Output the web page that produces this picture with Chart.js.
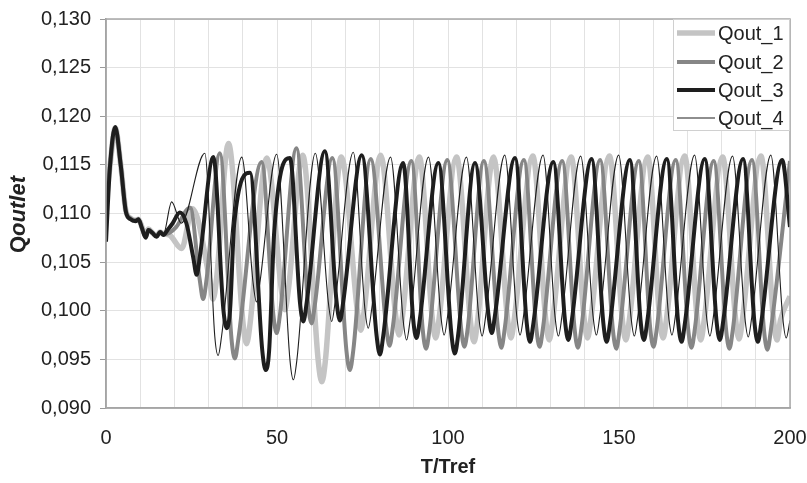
<!DOCTYPE html>
<html>
<head>
<meta charset="utf-8">
<script src="https://cdn.jsdelivr.net/npm/chart.js@4"></script>
<style>
  html, body { margin: 0; padding: 0; background: #fff; }
  #wrap { width: 807px; height: 483px; }
</style>
</head>
<body>
<div id="wrap"><canvas id="chart" width="807" height="483"></canvas></div>
<script>
// points: [T/Tref, Qoutlet]
// (peaks, troughs, and the flanks just beside each sharp trough)
const qout1 = [[0,0.1109],[1.2,0.1150],[2.7,0.1188],[4.3,0.1150],[5.8,0.1103],[7.2,0.1095],[8.6,0.1093],[9.5,0.1094],[10.5,0.1086],[11.6,0.1077],[12.4,0.1084],[13.6,0.1080],[14.8,0.1077],[15.8,0.1081],[16.8,0.1079],[18.5,0.1078],[22.1,0.1064],[25.3,0.1105],
  [30.3,0.1032],[31.3,0.1012],[32.3,0.1032],[35.8,0.1172],
  [40.1,0.0986],[41.1,0.0966],[42.1,0.0986],[47,0.1157],
  [51.3,0.1021],[52.3,0.1001],[53.3,0.1021],[57.5,0.1160],
  [62.1,0.0947],[63.1,0.0927],[64.1,0.0947],[68.8,0.1158],
  [73.5,0.1000],[74.5,0.0980],[75.5,0.1000],[80.3,0.1160],
  [84.7,0.0995],[85.7,0.0975],[86.7,0.0995],[91.6,0.1158],
  [95.4,0.0992],[96.4,0.0972],[97.4,0.0992],[102.5,0.1158],
  [106.6,0.0988],[107.6,0.0968],[108.6,0.0988],[113.3,0.1158],
  [117.4,0.0992],[118.4,0.0972],[119.4,0.0992],[124.8,0.1159],
  [128.6,0.0990],[129.6,0.0970],[130.6,0.0990],[136,0.1158],
  [139.8,0.0992],[140.8,0.0972],[141.8,0.0992],[147.2,0.1159],
  [151,0.0990],[152,0.0970],[153,0.0990],[158.4,0.1158],
  [161.9,0.0992],[162.9,0.0972],[163.9,0.0992],[169.2,0.1159],
  [172.9,0.0990],[173.9,0.0970],[174.9,0.0990],[180.3,0.1158],
  [184.1,0.0991],[185.1,0.0971],[186.1,0.0991],[191.5,0.1159],
  [195.2,0.0990],[196.2,0.0970],[197.2,0.0990],[200,0.1015]];

const qout2 = [[0,0.1108],[1.2,0.1150],[2.7,0.1188],[4.3,0.1150],[5.8,0.1103],[7.2,0.1095],[8.6,0.1093],[9.5,0.1094],[10.5,0.1085],[11.6,0.1076],[12.4,0.1083],[13.6,0.1080],[14.8,0.1077],[15.8,0.1081],[16.8,0.1079],[18.5,0.1080],[20.5,0.1086],[24.6,0.1106],
  [27.4,0.1032],[28.4,0.1012],[29.4,0.1032],[33.3,0.1162],
  [36.7,0.0971],[37.7,0.0951],[38.7,0.0971],[45.5,0.1153],
  [48.9,0.0997],[49.9,0.0977],[50.9,0.0997],[55.7,0.1167],
  [59.1,0.1007],[60.1,0.0987],[61.1,0.1007],[66.2,0.1157],
  [70.3,0.0959],[71.3,0.0939],[72.3,0.0959],[77.4,0.1156],
  [81.9,0.0984],[82.9,0.0964],[83.9,0.0984],[89.3,0.1154],
  [92.6,0.0981],[93.6,0.0961],[94.6,0.0981],[99.8,0.1155],
  [103.8,0.0983],[104.8,0.0963],[105.8,0.0983],[110.5,0.1154],
  [114.6,0.0982],[115.6,0.0962],[116.6,0.0982],[122.2,0.1155],
  [125.8,0.0983],[126.8,0.0963],[127.8,0.0983],[133.4,0.1154],
  [137,0.0982],[138,0.0962],[139,0.0982],[144.5,0.1155],
  [148.2,0.0981],[149.2,0.0961],[150.2,0.0981],[155.8,0.1154],
  [159.1,0.0983],[160.1,0.0963],[161.1,0.0983],[166.6,0.1155],
  [170.2,0.0982],[171.2,0.0962],[172.2,0.0982],[177.7,0.1154],
  [181.3,0.0981],[182.3,0.0961],[183.3,0.0981],[188.9,0.1155],
  [192.4,0.0980],[193.4,0.0960],[194.4,0.0980],[200,0.1154]];

const qout3 = [[0,0.1071],[1.2,0.1150],[2.7,0.1189],[4.3,0.1150],[5.8,0.1102],[7.2,0.1094],[8.6,0.1092],[9.5,0.1094],[10.5,0.1085],[11.6,0.1075],[12.4,0.1083],[13.6,0.1080],[14.8,0.1076],[15.8,0.1081],[16.8,0.1078],[18,0.1083],[19.5,0.1090],[21.6,0.1101],[23.5,0.1090],
  [25.5,0.1055],[26.5,0.1037],[27.5,0.1057],[31.4,0.1158],
  [34.3,0.1002],[35.3,0.0982],[36.3,0.1002],[37.5,0.1090],[42.1,0.1142],
  [45.7,0.0959],[46.7,0.0939],[47.7,0.0959],[49.2,0.1082],[53.8,0.1157],
  [56.7,0.1009],[57.7,0.0989],[58.7,0.1009],[64,0.1164],
  [67.4,0.1010],[68.4,0.0990],[69.4,0.1010],[74.8,0.1160],
  [79.1,0.0975],[80.1,0.0955],[81.1,0.0975],[86.9,0.1152],
  [89.8,0.0992],[90.8,0.0972],[91.8,0.0992],[97.2,0.1152],
  [101,0.0976],[102,0.0956],[103,0.0976],[107.9,0.1152],
  [111.8,0.0997],[112.8,0.0977],[113.8,0.0997],[119.6,0.1157],
  [123,0.0988],[124,0.0968],[125,0.0988],[130.8,0.1153],
  [134.2,0.0990],[135.2,0.0970],[136.2,0.0990],[142,0.1156],
  [145.4,0.0988],[146.4,0.0968],[147.4,0.0988],[153.2,0.1155],
  [156.3,0.0990],[157.3,0.0970],[158.3,0.0990],[164,0.1156],
  [167.3,0.0988],[168.3,0.0968],[169.3,0.0988],[175.1,0.1156],
  [178.5,0.0990],[179.5,0.0970],[180.5,0.0990],[186.3,0.1156],
  [189.6,0.0988],[190.6,0.0968],[191.6,0.0988],[197.7,0.1155],[200,0.1086]];

const qout4 = [[0,0.1071],[1.2,0.1150],[2.7,0.1189],[4.3,0.1150],[5.8,0.1102],[7.2,0.1094],[8.6,0.1092],[9.5,0.1094],[10.5,0.1085],[11.6,0.1075],[12.4,0.1083],[13.6,0.1080],[14.8,0.1076],[15.8,0.1081],[16.8,0.1079],[19.2,0.1112],[22,0.1090],[28.9,0.1162],
  [31.8,0.0974],[32.8,0.0954],[33.8,0.0974],[39.7,0.1158],
  [43,0.1029],[44,0.1009],[45,0.1029],[49.9,0.1161],
  [53.8,0.0949],[54.8,0.0929],[55.8,0.0949],[61.2,0.1162],
  [65,0.1009],[66,0.0989],[67,0.1009],[72.3,0.1163],
  [75.7,0.1002],[76.7,0.0982],[77.7,0.1002],[83.2,0.1158],
  [86.9,0.0990],[87.9,0.0970],[88.9,0.0990],[94.3,0.1158],
  [97.9,0.0995],[98.9,0.0975],[99.9,0.0995],[105.4,0.1158],
  [109,0.0994],[110,0.0974],[111,0.0994],[116.6,0.1160],
  [120.1,0.0995],[121.1,0.0975],[122.1,0.0995],[127.8,0.1160],
  [131.3,0.0994],[132.3,0.0974],[133.3,0.0994],[138.8,0.1159],
  [142.4,0.0995],[143.4,0.0975],[144.4,0.0995],[149.9,0.1160],
  [153.5,0.0994],[154.5,0.0974],[155.5,0.0994],[161,0.1159],
  [164.5,0.0995],[165.5,0.0975],[166.5,0.0995],[172.1,0.1160],
  [175.6,0.0994],[176.6,0.0974],[177.6,0.0994],[183.2,0.1159],
  [186.8,0.0993],[187.8,0.0973],[188.8,0.0993],[194.4,0.1160],
  [197.9,0.0992],[198.9,0.0972],[200,0.0990]];

const seriesNames = ['Qout_1', 'Qout_2', 'Qout_3', 'Qout_4'];
const seriesData = [qout1, qout2, qout3, qout4];
const seriesColors = ['#c4c4c4', '#868686', '#1e1e1e', '#1e1e1e'];
const seriesWidths = [5.5, 4, 4, 1.1];

const FONT = "'Liberation Sans', Arial, sans-serif";

const datasets = seriesData.map((pts, i) => ({
  label: seriesNames[i],
  data: pts.map(p => ({ x: p[0], y: p[1] })),
  borderColor: seriesColors[i],
  borderWidth: seriesWidths[i],
  pointRadius: 0,
  fill: false,
  cubicInterpolationMode: 'monotone',
  order: 4 - i   // later series on top, like the original
}));

// legend box inside the plot + mixed-style y title
const extras = {
  id: 'extras',
  afterDraw(chart) {
    const ctx = chart.ctx;
    const a = chart.chartArea;
    ctx.save();
    // frame on top/right
    ctx.strokeStyle = '#a8a8a8';
    ctx.lineWidth = 1.5;
    ctx.strokeRect(a.left, a.top, a.right - a.left, a.bottom - a.top);

    // legend
    const bx = a.right - 117, by = a.top, bw = 117, bh = 112;
    ctx.fillStyle = '#fff';
    ctx.fillRect(bx, by, bw, bh);
    ctx.strokeStyle = '#d0d0d0';
    ctx.lineWidth = 1;
    ctx.strokeRect(bx + 0.5, by + 0.5, bw - 1, bh - 1);
    ctx.font = '20px ' + FONT;
    ctx.textBaseline = 'middle';
    ctx.textAlign = 'left';
    const rows = [14, 43, 71, 99];
    seriesNames.forEach((name, i) => {
      const y = by + rows[i];
      ctx.strokeStyle = seriesColors[i];
      ctx.lineWidth = seriesWidths[i];
      ctx.beginPath();
      ctx.moveTo(bx + 4, y);
      ctx.lineTo(bx + 42, y);
      ctx.stroke();
      ctx.fillStyle = '#222';
      ctx.fillText(name, bx + 45, y + 1);
    });

    // y axis title: "Q" bold, "outlet" bold italic
    ctx.translate(19, (a.top + a.bottom) / 2 + 1);
    ctx.rotate(-Math.PI / 2);
    ctx.fillStyle = '#222';
    const f1 = 'bold 22px ' + FONT, f2 = 'italic bold 22px ' + FONT;
    ctx.font = f1; const w1 = ctx.measureText('Q').width;
    ctx.font = f2; const w2 = ctx.measureText('outlet').width;
    const x0 = -(w1 + w2) / 2;
    ctx.font = f1; ctx.fillText('Q', x0, 0);
    ctx.font = f2; ctx.fillText('outlet', x0 + w1, 0);
    ctx.restore();
  }
};

new Chart(document.getElementById('chart'), {
  type: 'line',
  data: { datasets },
  options: {
    responsive: false,
    animation: false,
    layout: { padding: { top: 19, right: 17, left: 0, bottom: 0 } },
    plugins: { legend: { display: false }, tooltip: { enabled: false } },
    scales: {
      x: {
        type: 'linear',
        min: 0, max: 200,
        afterFit(scale) {
          scale.height = 75;
          scale.paddingLeft = 0;
          scale.paddingRight = 0;
        },
        ticks: {
          stepSize: 10,
          autoSkip: false,
          maxRotation: 0,
          padding: 18,
          color: '#222',
          font: { family: FONT, size: 20 },
          callback: v => (v % 50 === 0 ? String(v) : '')
        },
        grid: { color: '#e2e2e2', lineWidth: 1, tickLength: 0 },
        border: { color: '#9a9a9a', width: 1.5 },
        title: {
          display: true,
          text: 'T/Tref',
          color: '#222',
          font: { family: FONT, size: 20, weight: 'bold' },
          padding: { top: 0, bottom: 4 }
        }
      },
      y: {
        min: 0.09, max: 0.13,
        afterFit(scale) {
          scale.width = 106;
          scale.paddingTop = 0;
          scale.paddingBottom = 0;
        },
        ticks: {
          stepSize: 0.005,
          padding: 9,
          color: '#222',
          font: { family: FONT, size: 20 },
          callback: v => v.toFixed(3).replace('.', ',')
        },
        grid: { color: '#e2e2e2', lineWidth: 1, tickLength: 6, tickColor: '#9a9a9a' },
        border: { color: '#9a9a9a', width: 1.5 }
      }
    }
  },
  plugins: [extras]
});
</script>
</body>
</html>
